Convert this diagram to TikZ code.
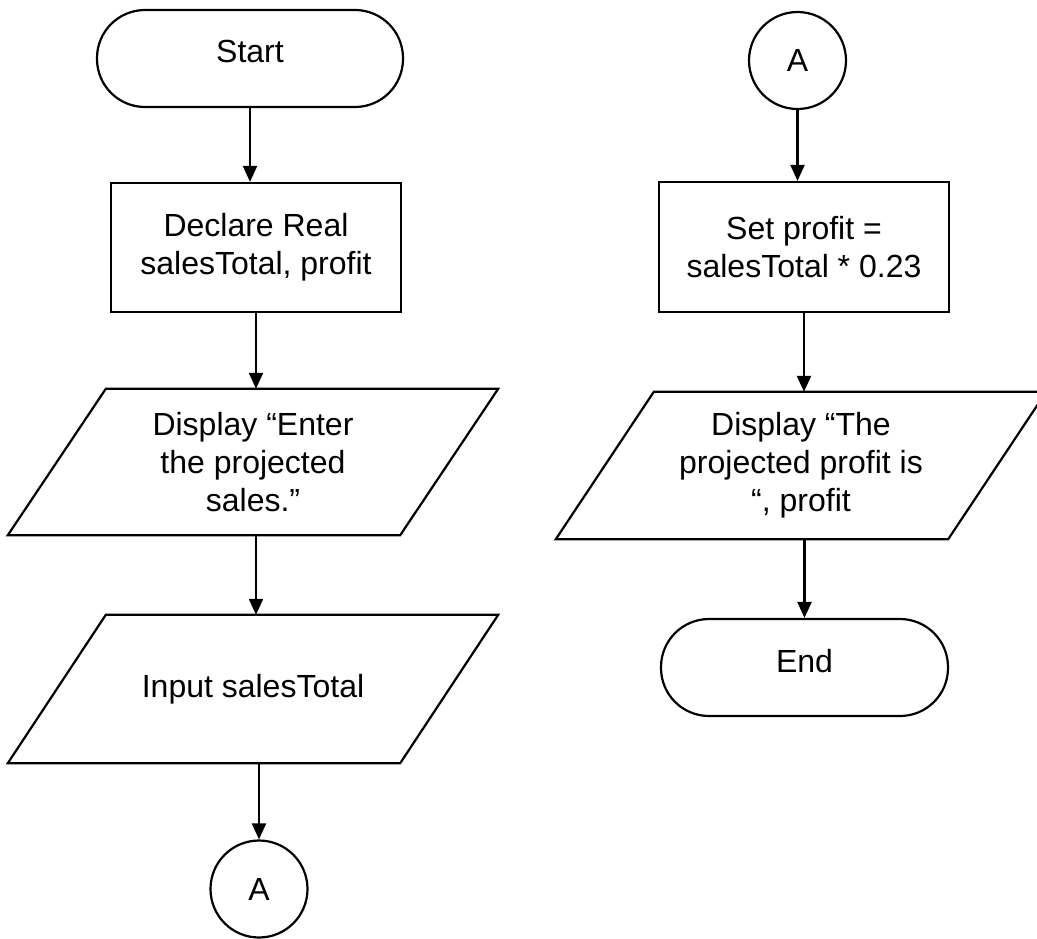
\documentclass[tikz,border=0pt]{standalone}
\usepackage{fontspec}
\setmainfont{Liberation Sans}
\usetikzlibrary{arrows.meta,shapes.geometric}
\begin{document}
\begin{tikzpicture}[x=1pt,y=-1pt,
  every node/.style={font=\fontsize{32}{38}\selectfont, align=center, inner sep=0pt},
  ln/.style={line width=2.2pt, black, line join=miter},
  term/.style={ln, draw, fill=white, rectangle, rounded corners=48pt, minimum height=97pt, text depth=14pt},
  procbox/.style={ln, draw, rectangle, minimum width=290pt},
  iobox/.style={minimum width=490pt},
  conn/.style={ln, draw, circle, minimum size=97pt},
  arr/.style={ln, -{Triangle[length=16pt,width=14pt]}}
]
\useasboundingbox (0,0) rectangle (1037,938);
\clip (0,0) rectangle (1037,938);

% left column
\node[term, minimum width=306pt] (start) at (250,58.5) {Start};
\node[procbox, minimum height=129pt] (decl) at (256,247.5) {Declare Real\\salesTotal, profit};
\node[iobox, minimum height=146pt] (p1) at (253,462) {Display “Enter\\the projected\\sales.”};
\node[iobox, minimum height=148pt] (p2) at (253,689) {Input salesTotal};
\node[conn] (a1) at (259,889) {A};

% right column
\node[conn] (a2) at (797.5,60.5) {A};
\node[procbox, minimum height=130pt] (set) at (804,247) {Set profit =\\salesTotal * 0.23};
\node[iobox, minimum height=147pt] (p3) at (801,465.5) {Display “The\\projected profit is\\“, profit};
\node[term, minimum width=287pt] (end) at (804.5,667.5) {End};

% parallelogram outlines
\foreach \p in {p1,p2,p3}{
  \draw[ln] ([xshift=98pt]\p.north west) -- (\p.north east) -- ([xshift=-98pt]\p.south east) -- (\p.south west) -- cycle;
}

% connectors
\draw[arr] (start.south) -- (start.south |- decl.north);
\draw[arr] (decl.south) -- (decl.south |- p1.north);
\draw[arr] (decl.south |- p1.south) -- (decl.south |- p2.north);
\draw[arr] (a1.north |- p2.south) -- (a1.north);
\draw[arr] (a2.south) -- (a2.south |- set.north);
\draw[arr] (set.south) -- (set.south |- p3.north);
\draw[arr] (end.north |- p3.south) -- (end.north);
\end{tikzpicture}
\end{document}
